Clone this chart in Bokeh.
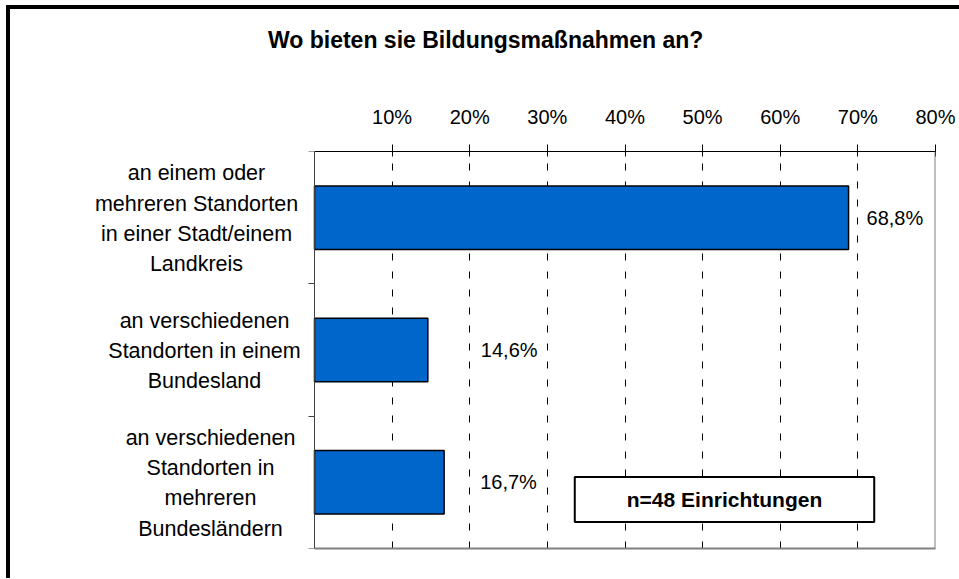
from bokeh.plotting import figure
from bokeh.models import (Range1d, FactorRange, LinearAxis, FixedTicker, Label, Span,
                          ColumnDataSource, Div, Column)
from bokeh.embed import file_html
from bokeh.resources import INLINE
from bokeh.core.properties import value

# ---- data ----
title = "Wo bieten sie Bildungsmaßnahmen an?"
categories = [
    "an einem oder\nmehreren Standorten\nin einer Stadt/einem\nLandkreis",
    "an verschiedenen\nStandorten in einem\nBundesland",
    "an verschiedenen\nStandorten in\nmehreren\nBundesländern",
]
shares = [68.8, 14.6, 16.7]
share_labels = ["68,8%", "14,6%", "16,7%"]
tick_values = [10, 20, 30, 40, 50, 60, 70, 80]
tick_labels = ["10%", "20%", "30%", "40%", "50%", "60%", "70%", "80%"]
x_max = 80
note = "n=48 Einrichtungen"

# ---- styling / layout (page pixels) ----
FONT = "Liberation Sans"
OX, OY = 10, 9                 # content origin on the page
W = 947
TH = 51                        # height of the title strip
EXTRA = 9                      # extra space the title strip takes in the layout
PY = OY + TH + EXTRA           # page y where the chart canvas starts
PH = 568 - TH - EXTRA          # height of the chart canvas
MBL = 30                       # frame starts 30px into the canvas
AX0, AX1, TOP, BOT = 314, 935, 150, 547   # plot area on the page
x_start = -x_max * (AX0 - OX - MBL) / (AX1 - AX0)
label_dx = [18, 53, 36]          # pixel offsets of the value labels
cat_dx = [-118, -110, -104]      # pixel offsets of the category label centres

head = Div(text=title, width=W, height=TH,
           styles={"font-family": FONT, "font-weight": "bold", "font-size": "23px",
                   "color": "black", "padding-left": "253px",
                   "padding-top": "13px", "line-height": "26px", "white-space": "nowrap"})

factors = categories[::-1]
p = figure(width=W, height=PH,
           x_range=Range1d(x_start, x_max),
           y_range=FactorRange(factors=factors),
           x_axis_location="above", y_axis_location=None,
           output_backend="svg", toolbar_location=None,
           min_border_left=MBL, min_border_right=W - (AX1 - OX),
           min_border_top=TOP - PY, min_border_bottom=PY + PH - BOT)
p.outline_line_color = None
p.background_fill_color = "white"
p.border_fill_color = "white"

# top axis, only over the plot area
xa = p.xaxis[0]
xa.ticker = FixedTicker(ticks=tick_values)
xa.bounds = (0, x_max)
xa.major_label_overrides = {v: t for v, t in zip(tick_values, tick_labels)}
xa.major_label_text_font = FONT
xa.major_label_text_font_size = "20px"
xa.major_label_text_color = "black"
xa.major_label_standoff = 17
xa.major_tick_out = 7
xa.major_tick_in = 5
xa.minor_tick_line_color = None
xa.axis_line_color = "black"
xa.major_tick_line_color = "black"

# bottom edge of the plot area
bx = LinearAxis(ticker=FixedTicker(ticks=[]), bounds=(0, x_max), axis_line_color="#808080",
                axis_line_width=2, major_tick_out=0, major_tick_in=0,
                minor_tick_line_color=None, major_label_text_color=None,
                major_label_text_font_size="0px")
p.add_layout(bx, "below")

# right edge of the plot area
p.add_layout(Span(location=x_max, dimension="height", line_color="#808080", line_width=2))

# grid
p.xgrid.ticker = FixedTicker(ticks=tick_values[:-1])
p.xgrid.grid_line_color = "black"
p.xgrid.grid_line_dash = "7 11"
p.xgrid.grid_line_width = 1
p.ygrid.visible = False

# left axis at 0 % with ticks at category boundaries
ya = LinearAxis(ticker=FixedTicker(ticks=list(range(len(categories) + 1))),
                fixed_location=0,
                major_tick_out=6, major_tick_in=0,
                minor_tick_line_color=None, axis_line_color="#404040",
                major_tick_line_color="#404040", major_label_text_color=None,
                major_label_text_font_size="0px", major_label_standoff=0)
p.add_layout(ya, "left")

src = ColumnDataSource(dict(y=categories, x=shares, label=share_labels, dx=label_dx,
                            cdx=cat_dx))
p.hbar(y="y", right="x", left=0, height=0.48, source=src,
       fill_color="#0066CC", line_color="black", line_width=1.5)
p.text(x="x", y="y", text="label", x_offset="dx", source=src,
       text_font=value(FONT), text_font_size="20px", text_color="black",
       text_baseline="middle", text_align="left")
# category labels, lines centred
p.text(x=0, y="y", text="y", x_offset="cdx", y_offset=1, source=src,
       text_font=value(FONT), text_font_size="21.5px", text_color="black",
       text_baseline="middle", text_align="center", text_line_height=1.26)

p.add_layout(Label(x=724 - (OX + MBL), y=BOT - 498, x_units="screen", y_units="screen",
                   text=note, text_align="center", text_baseline="middle", text_font=FONT,
                   text_font_style="bold", text_font_size="21px", text_color="black",
                   border_line_color="black", border_line_width=2,
                   background_fill_color="white",
                   padding={"left": 52, "right": 52, "top": 11, "bottom": 11}))

page = Column(children=[head, p], spacing=0,
              styles={"border-left": "4px solid black", "border-top": "4px solid black",
                      "margin-left": "6px", "margin-top": "5px"})

open("out.html", "w").write(file_html(page, INLINE))
